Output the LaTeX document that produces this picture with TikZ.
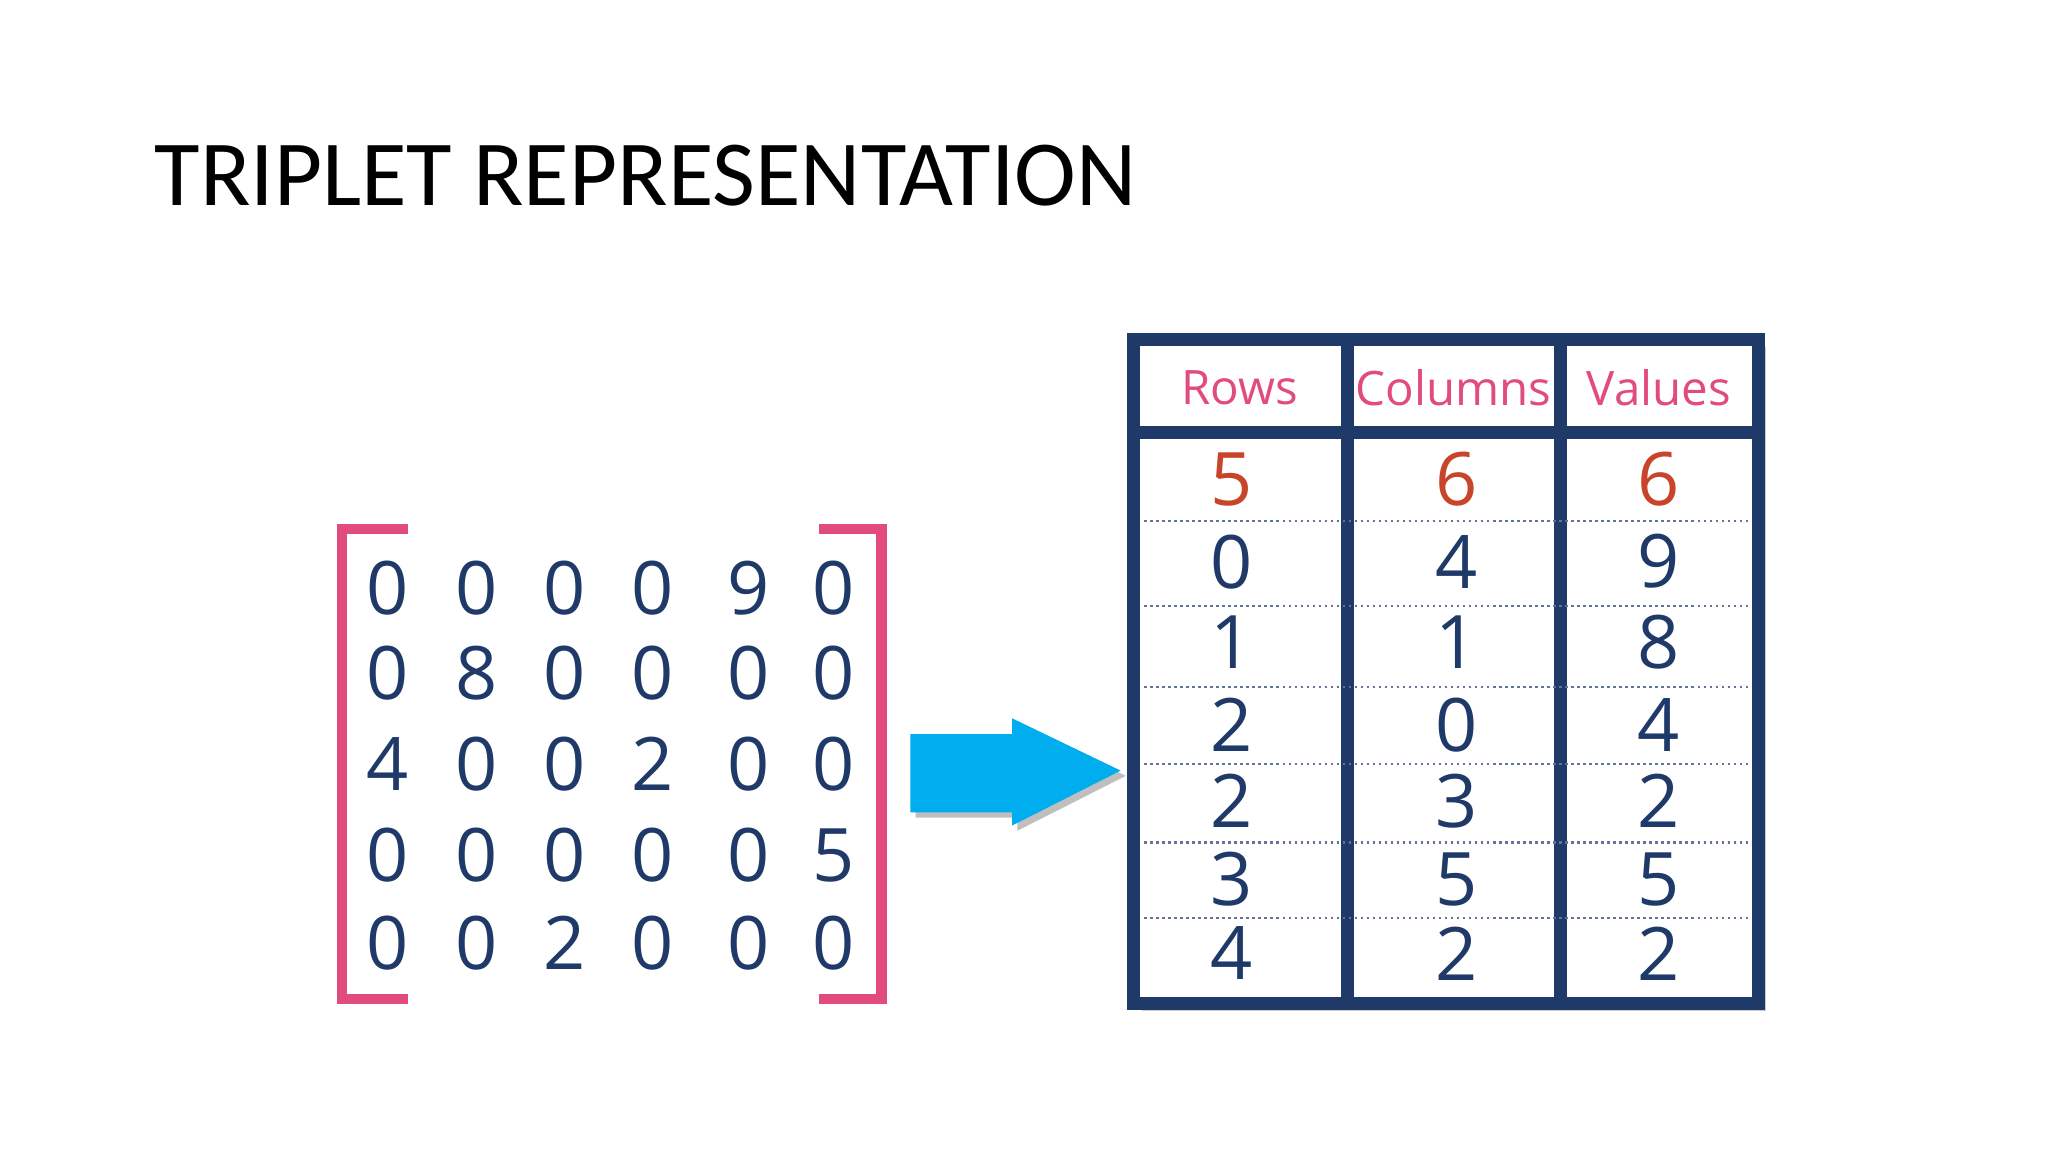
\documentclass[tikz,border=0pt]{standalone}
\usepackage{fontspec}
\setmainfont{Carlito}
\newfontfamily\digitfont{Open Sans}
\definecolor{matpink}{HTML}{E14B7D}
\definecolor{navy}{HTML}{1F3A68}
\definecolor{arrowblue}{HTML}{00AEEF}
\definecolor{firstred}{HTML}{C8442A}
\tikzset{
  num/.style={font=\digitfont\fontsize{21}{21}\selectfont, text=navy, inner sep=0pt},
  head/.style={font=\digitfont\fontsize{13.5}{13.5}\selectfont, text=matpink, inner sep=0pt},
}
\begin{document}
\begin{tikzpicture}[x=0.01306cm,y=-0.01306cm]
	\useasboundingbox (0,0) rectangle (1568,882);
	
	\node[anchor=base west, inner sep=0pt, font=\fontsize{26.5}{26.5}\selectfont] (title) at (118,157) {TRIPLET REPRESENTATION};
	
	% matrix brackets
	\draw[matpink, line width = 1.05mm] (312,405) -- (262,405) -- (262,765) -- (312,765);
	\draw[matpink, line width = 1.05mm] (627,405) -- (675,405) -- (675,765) -- (627,765);
	
	% matrix entries
	\foreach \r/\y/\vals in {1/450/{0,0,0,0,9,0}, 2/515/{0,8,0,0,0,0}, 3/585/{4,0,0,2,0,0}, 4/655/{0,0,0,0,0,5}, 5/722/{0,0,2,0,0,0}}{
		\foreach \v [count=\c] in \vals {
			\pgfmathsetmacro{\x}{{297,365,432,500,573,638}[\c-1]}
			\node[num] (m-\r-\c) at (\x,\y) {\v};
		}
	}
	
	% arrow
	\fill[black!25] (701,566) -- (779,566) -- (779,554) -- (862,594) -- (779,636) -- (779,626) -- (701,626) -- cycle;
	\fill[arrowblue] (697,562) -- (775,562) -- (775,550) -- (858,590) -- (775,632) -- (775,622) -- (697,622) -- cycle;
	
	% table
	\fill[black!20] (874,266) rectangle (1352,774);
	\fill[white] (868,260) rectangle (1346,768);
	\draw[navy, line width = 1.3mm] (868,260) rectangle (1346,768);
	\draw[navy, line width = 1.3mm] (1032,260) -- (1032,768);
	\draw[navy, line width = 1.3mm] (1195,260) -- (1195,768);
	\draw[navy, line width = 1.3mm] (868,331) -- (1346,331);
	\foreach \y in {399,464,526,585,645,703}
		\draw[navy!70, line width = 0.25mm, densely dotted] (876,\y) -- (1340,\y);
	
	\node[head] (h-rows) at (949,297) {Rows};
	\node[head] (h-cols) at (1113,297) {Columns};
	\node[head] (h-vals) at (1270,297) {Values};
	
	\node[num, text=firstred] (t-0-1) at (943,367) {5};
	\node[num, text=firstred] (t-0-2) at (1115,367) {6};
	\node[num, text=firstred] (t-0-3) at (1270,367) {6};
	\foreach \r/\y/\a/\b/\c in {1/430/0/4/9, 2/492/1/1/8, 3/555/2/0/4, 4/613/2/3/2, 5/673/3/5/5, 6/730/4/2/2}{
		\node[num] (t-\r-1) at (943,\y) {\a};
		\node[num] (t-\r-2) at (1115,\y) {\b};
		\node[num] (t-\r-3) at (1270,\y) {\c};
	}
	
\end{tikzpicture}
\end{document}
